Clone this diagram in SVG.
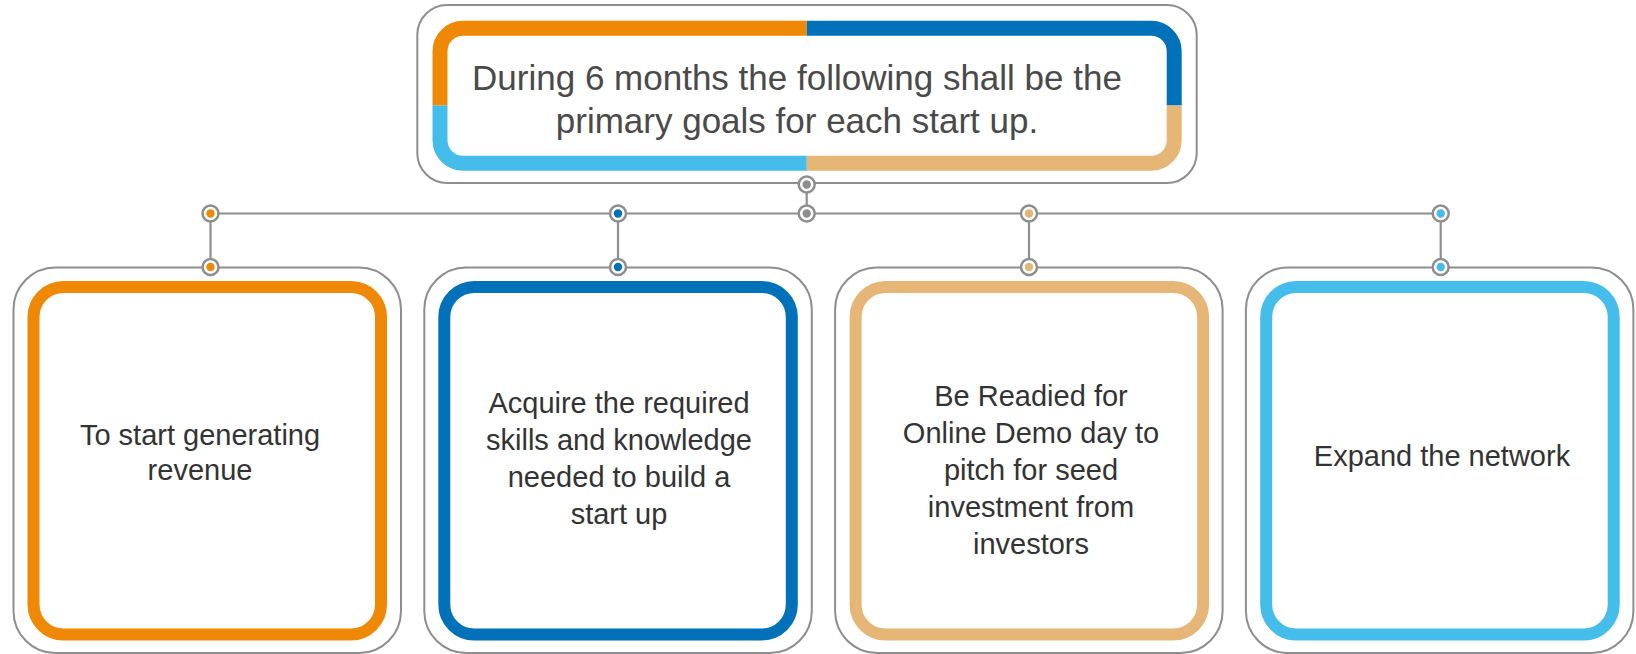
<svg xmlns="http://www.w3.org/2000/svg" width="1636" height="654" viewBox="0 0 1636 654">
  <style>
    .frame { fill: #ffffff; stroke: #8e8e8e; stroke-width: 2; }
    .band { fill: none; stroke-width: 12; }
    .topband { fill: none; stroke-width: 15; }
    .conn { stroke: #8e8e8e; stroke-width: 2.2; fill: none; }
    .ring { fill: #ffffff; stroke: #8e8e8e; stroke-width: 2.5; }
    .title { font-family: "Liberation Sans", Arial, sans-serif; font-size: 35px; fill: #4a4a4a; text-anchor: middle; }
    .label { font-family: "Liberation Sans", Arial, sans-serif; font-size: 29px; fill: #333333; text-anchor: middle; }
  </style>
  <defs>
    <clipPath id="qTL"><rect x="0" y="0" width="806.7" height="105.6"/></clipPath>
    <clipPath id="qTR"><rect x="806.7" y="0" width="830" height="105.6"/></clipPath>
    <clipPath id="qBR"><rect x="806.7" y="105.6" width="830" height="200"/></clipPath>
    <clipPath id="qBL"><rect x="0" y="105.6" width="806.7" height="200"/></clipPath>
  </defs>
  <rect width="1636" height="654" fill="#ffffff"/>

  <g id="connectors">
    <line class="conn" x1="806.7" y1="184.5" x2="806.7" y2="213.5"/>
    <line class="conn" x1="210.5" y1="213.5" x2="1440.7" y2="213.5"/>
    <line class="conn" x1="210.5" y1="213.5" x2="210.5" y2="267"/>
    <line class="conn" x1="618" y1="213.5" x2="618" y2="267"/>
    <line class="conn" x1="1029" y1="213.5" x2="1029" y2="267"/>
    <line class="conn" x1="1440.7" y1="213.5" x2="1440.7" y2="267"/>
  </g>

  <g id="title">
    <rect class="frame" x="417.3" y="5" width="779.4" height="178" rx="30"/>
    <rect class="topband" x="440" y="28.2" width="734.2" height="135" rx="23" stroke="#EE8805" clip-path="url(#qTL)"/>
    <rect class="topband" x="440" y="28.2" width="734.2" height="135" rx="23" stroke="#0171B9" clip-path="url(#qTR)"/>
    <rect class="topband" x="440" y="28.2" width="734.2" height="135" rx="23" stroke="#E6B677" clip-path="url(#qBR)"/>
    <rect class="topband" x="440" y="28.2" width="734.2" height="135" rx="23" stroke="#45BDEA" clip-path="url(#qBL)"/>
    <text class="title" x="797" y="89.5">During 6 months the following shall be the</text>
    <text class="title" x="797" y="133">primary goals for each start up.</text>
  </g>

  <g id="hub">
    <circle class="ring" cx="806.7" cy="184.5" r="8"/>
    <circle cx="806.7" cy="184.5" r="4.2" fill="#8e8e8e"/>
    <circle class="ring" cx="806.7" cy="213.5" r="8"/>
    <circle cx="806.7" cy="213.5" r="4.2" fill="#8e8e8e"/>
  </g>

  <g id="goal1">
    <rect class="frame" x="13.5" y="267.5" width="387.5" height="385.5" rx="42"/>
    <rect class="band" x="33.5" y="287" width="347.5" height="347.5" rx="30" stroke="#EE8805"/>
    <circle class="ring" cx="210.5" cy="213.5" r="8"/>
    <circle cx="210.5" cy="213.5" r="4.2" fill="#EE8805"/>
    <circle class="ring" cx="210.5" cy="267" r="8"/>
    <circle cx="210.5" cy="267" r="4.2" fill="#EE8805"/>
    <text class="label" x="200" y="445">To start generating</text>
    <text class="label" x="200" y="480">revenue</text>
  </g>

  <g id="goal2">
    <rect class="frame" x="424.3" y="267.5" width="387.5" height="385.5" rx="42"/>
    <rect class="band" x="444.3" y="287" width="347.5" height="347.5" rx="30" stroke="#0171B9"/>
    <circle class="ring" cx="618" cy="213.5" r="8"/>
    <circle cx="618" cy="213.5" r="4.2" fill="#0171B9"/>
    <circle class="ring" cx="618" cy="267" r="8"/>
    <circle cx="618" cy="267" r="4.2" fill="#0171B9"/>
    <text class="label" x="619" y="413">Acquire the required</text>
    <text class="label" x="619" y="450">skills and knowledge</text>
    <text class="label" x="619" y="487">needed to build a</text>
    <text class="label" x="619" y="524">start up</text>
  </g>

  <g id="goal3">
    <rect class="frame" x="835.1" y="267.5" width="387.5" height="385.5" rx="42"/>
    <rect class="band" x="855.6" y="287" width="347.5" height="347.5" rx="30" stroke="#E6B677"/>
    <circle class="ring" cx="1029" cy="213.5" r="8"/>
    <circle cx="1029" cy="213.5" r="4.2" fill="#E6B677"/>
    <circle class="ring" cx="1029" cy="267" r="8"/>
    <circle cx="1029" cy="267" r="4.2" fill="#E6B677"/>
    <text class="label" x="1031" y="406">Be Readied for</text>
    <text class="label" x="1031" y="443">Online Demo day to</text>
    <text class="label" x="1031" y="480">pitch for seed</text>
    <text class="label" x="1031" y="517">investment from</text>
    <text class="label" x="1031" y="554">investors</text>
  </g>

  <g id="goal4">
    <rect class="frame" x="1245.9" y="267.5" width="387.5" height="385.5" rx="42"/>
    <rect class="band" x="1266.2" y="287" width="347.5" height="347.5" rx="30" stroke="#45BDEA"/>
    <circle class="ring" cx="1440.7" cy="213.5" r="8"/>
    <circle cx="1440.7" cy="213.5" r="4.2" fill="#45BDEA"/>
    <circle class="ring" cx="1440.7" cy="267" r="8"/>
    <circle cx="1440.7" cy="267" r="4.2" fill="#45BDEA"/>
    <text class="label" x="1442" y="466">Expand the network</text>
  </g>
</svg>
